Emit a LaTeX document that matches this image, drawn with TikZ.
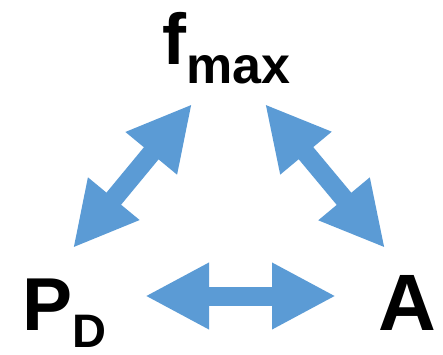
\documentclass[tikz,border=0pt]{standalone}
\usepackage{fontspec}
\setmainfont{Liberation Sans}
\usepackage{xcolor}
\usetikzlibrary{arrows.meta, positioning}

\definecolor{arrowblue}{RGB}{91,155,213}

\begin{document}
\begin{tikzpicture}[x=1pt, y=1pt,
    label/.style={inner sep=0pt, font=\bfseries},
    link/.style={arrowblue, line width=19pt,
      {Triangle[length=64pt, width=62pt]}-{Triangle[length=64pt, width=62pt]}}]
    \useasboundingbox (0,0) rectangle (443,354);
    % the three quantities
    \node[label, anchor=base west] (fmax) at (162,289)
      {\fontsize{72}{72}\selectfont f\raisebox{-18pt}{\fontsize{52}{52}\selectfont max}};
    \node[label, anchor=base west] (pd) at (22,24)
      {\fontsize{75}{75}\selectfont P\raisebox{-17pt}{\fontsize{47}{47}\selectfont D}};
    \node[label, anchor=base] (amp) at (407,24) {\fontsize{80}{80}\selectfont A};
    % arrow ends
    \coordinate (fl) at (192,250);
    \coordinate (fr) at (265,250);
    \coordinate (pu) at (73,106);
    \coordinate (au) at (385,106);
    \coordinate (pr) at (145,58);
    \coordinate (al) at (336,58);
    % double arrows between them
    \draw[link] (fl) -- (pu);
    \draw[link] (fr) -- (au);
    \draw[link] (pr) -- (al);
  \end{tikzpicture}
\end{document}
